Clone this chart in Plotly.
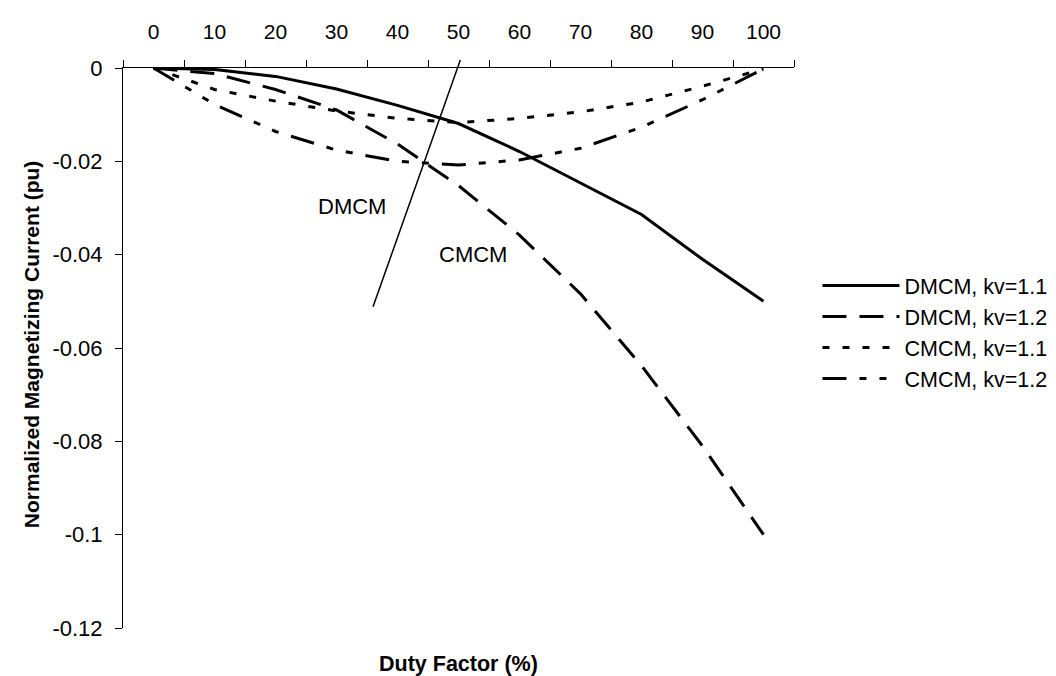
import plotly.graph_objects as go

# ---- data ----
duty_factor = [0, 10, 20, 30, 40, 50, 60, 70, 80, 90, 100]
dmcm_kv11 = [0, -0.0003, -0.0018, -0.0045, -0.0080, -0.0119, -0.0179, -0.0247, -0.0314, -0.0410, -0.0500]
dmcm_kv12 = [0, -0.0012, -0.0046, -0.0090, -0.0163, -0.0252, -0.0358, -0.0484, -0.0638, -0.0810, -0.1000]
cmcm_kv11 = [0, -0.0046, -0.0071, -0.0092, -0.0108, -0.0117, -0.0108, -0.0094, -0.0073, -0.0039, -0.0002]
cmcm_kv12 = [0, -0.0078, -0.0136, -0.0176, -0.0200, -0.0208, -0.0197, -0.0172, -0.0127, -0.0068, -0.0002]

series_names = ["DMCM, kv=1.1", "DMCM, kv=1.2", "CMCM, kv=1.1", "CMCM, kv=1.2"]

# boundary line between the two operating regions (start, end)
boundary_x = [35.9, 50.3]
boundary_y = [-0.0515, 0.0017]

region_labels = ["DMCM", "CMCM"]
region_label_x = [32.6, 52.3]
region_label_y = [-0.0297, -0.0399]

x_tick_vals = [0, 10, 20, 30, 40, 50, 60, 70, 80, 90, 100]
x_tick_text = ["0", "10", "20", "30", "40", "50", "60", "70", "80", "90", "100"]
y_tick_vals = [0, -0.02, -0.04, -0.06, -0.08, -0.1, -0.12]
y_tick_text = ["0", "-0.02", "-0.04", "-0.06", "-0.08", "-0.1", "-0.12"]

FONT = "Liberation Sans, Arial, sans-serif"

fig = go.Figure()

styles = [
    dict(width=3, dash="solid"),
    dict(width=3, dash="24px,13px"),
    dict(width=3, dash="7px,13px"),
    dict(width=3, dash="24px,13px,7px,13px,7px,13px"),
]
for name, ys, st in zip(series_names, [dmcm_kv11, dmcm_kv12, cmcm_kv11, cmcm_kv12], styles):
    fig.add_trace(go.Scatter(
        x=duty_factor, y=ys, mode="lines", name=name,
        line=dict(color="black", width=st["width"], dash=st["dash"]),
    ))

# boundary line drawn as an arrow without head so it may cross the axis slightly
fig.add_annotation(x=boundary_x[1], y=boundary_y[1], ax=boundary_x[0], ay=boundary_y[0],
                   xref="x", yref="y", axref="x", ayref="y", text="",
                   showarrow=True, arrowhead=0, arrowwidth=1.5, arrowcolor="black",
                   standoff=0, startstandoff=0)

for t, x, y in zip(region_labels, region_label_x, region_label_y):
    fig.add_annotation(x=x, y=y, xref="x", yref="y", text=t, showarrow=False,
                       xanchor="center", yanchor="middle",
                       font=dict(family=FONT, size=22, color="black"))

fig.add_annotation(x=0.5, y=-0.064, xref="paper", yref="paper",
                   text="<b>Duty Factor (%)</b>", showarrow=False,
                   xanchor="center", yanchor="middle",
                   font=dict(family=FONT, size=21.5, color="black"))
fig.add_annotation(x=-0.137, y=0.507, xref="paper", yref="paper",
                   text="<b>Normalized Magnetizing Current (pu)</b>", showarrow=False,
                   textangle=-90, xanchor="center", yanchor="middle",
                   font=dict(family=FONT, size=21, color="black"))

fig.update_layout(
    width=1056, height=676,
    margin=dict(l=115, r=263, t=55, b=56),
    paper_bgcolor="white", plot_bgcolor="white",
    font=dict(family=FONT, size=22, color="black"),
    showlegend=True,
    legend=dict(x=1.035, y=0.648, xanchor="left", yanchor="top",
                font=dict(family=FONT, size=21.5, color="black"),
                itemwidth=77, bgcolor="rgba(0,0,0,0)", tracegroupgap=0),
    xaxis=dict(
        range=[-5, 105], side="top", showgrid=False, zeroline=False,
        showline=True, linecolor="black", linewidth=1,
        tickmode="array", tickvals=x_tick_vals, ticktext=x_tick_text,
        ticks="", ticklabelstandoff=20,
        tickfont=dict(family=FONT, size=21, color="black"),
        minor=dict(ticks="outside", tick0=-5, dtick=10, ticklen=7,
                   tickcolor="black", tickwidth=1, showgrid=False),
    ),
    yaxis=dict(
        range=[-0.12, 0], showgrid=False, zeroline=False,
        showline=True, linecolor="black", linewidth=1,
        tickmode="array", tickvals=y_tick_vals, ticktext=y_tick_text,
        ticks="outside", ticklen=7, tickcolor="black", tickwidth=1,
        ticklabelstandoff=8,
        tickfont=dict(family=FONT, size=22, color="black"),
    ),
)

fig.write_html("out.html")
